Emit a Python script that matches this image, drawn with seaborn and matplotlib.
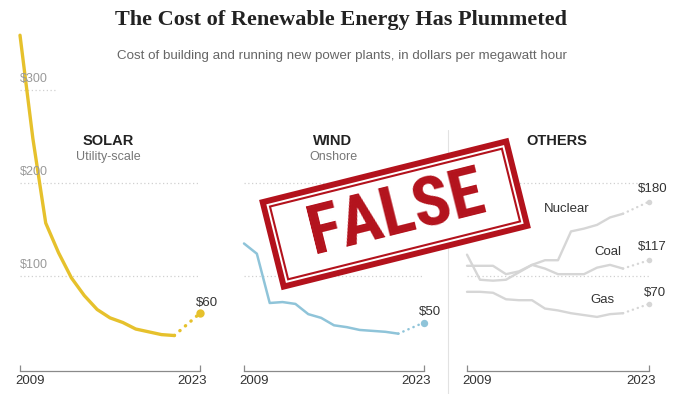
import numpy as np
import pandas as pd
import seaborn as sns
import matplotlib.pyplot as plt
import matplotlib.transforms as mtransforms
from matplotlib import font_manager
from matplotlib.patches import Rectangle
from matplotlib.lines import Line2D

# Kosten je MWh, 2009 - 2021 durchgezogen, 2023 als gepunktetes Ende
years = [2009, 2010, 2011, 2012, 2013, 2014, 2015, 2016, 2017, 2018, 2019, 2020, 2021]
solar = [359, 248, 157, 125, 98, 79, 64, 55, 50, 43, 40, 37, 36]
wind = [135, 124, 71, 72, 70, 59, 55, 47, 45, 42, 41, 40, 38]
nuclear = [123, 96, 95, 96, 104, 112, 117, 117, 148, 151, 155, 163, 167]
coal = [111, 111, 111, 102, 105, 112, 108, 102, 102, 102, 109, 112, 108]
gas = [83, 83, 82, 75, 74, 74, 65, 63, 60, 58, 56, 59, 60]

last_year = 2023
solar_last = 60
wind_last = 50
nuclear_last = 180
coal_last = 117
gas_last = 70

W, H = 700, 394
YELLOW = '#e6c12c'
BLUE = '#8fc4d9'
GREY = '#d6d6d6'
RED = '#b3121c'

sns.set_theme(style='white')
plt.rcParams['font.family'] = ['Liberation Sans', 'DejaVu Sans']

fig = plt.figure(figsize=(7, 3.94), dpi=100)
fig.patch.set_facecolor('white')


def box(x0, x1, ytop, ybot):
    return [x0 / W, 1 - ybot / H, (x1 - x0) / W, (ybot - ytop) / H]


def fpos(x, y):
    return x / W, 1 - y / H


def panel(x0, x1):
    ax = fig.add_axes(box(x0, x1, 25, 369))
    ax.set_xlim(2009, 2023)
    ax.set_ylim(0, 370)
    ax.patch.set_alpha(0)
    for s in ['top', 'right', 'left']:
        ax.spines[s].set_visible(False)
    ax.spines['bottom'].set_position(('outward', 1.5))
    ax.spines['bottom'].set_bounds(2009, 2023)
    ax.spines['bottom'].set_color('#8a8a8a')
    ax.spines['bottom'].set_linewidth(0.9)
    ax.set_xticks([2009, 2023])
    ax.set_yticks([])
    ax.tick_params(axis='x', direction='in', length=4.5, width=0.9, color='#8a8a8a',
                   pad=3, labelsize=9.5, labelcolor='#333333', bottom=True)
    lbls = ax.get_xticklabels()
    lbls[0].set_ha('left')
    lbls[0].set_transform(lbls[0].get_transform() + mtransforms.ScaledTranslation(-0.05, 0, fig.dpi_scale_trans))
    lbls[-1].set_ha('right')
    lbls[-1].set_transform(lbls[-1].get_transform() + mtransforms.ScaledTranslation(0.07, 0, fig.dpi_scale_trans))
    ax.set_xlabel('')
    ax.set_ylabel('')
    return ax


def grid(ax, levels, end=2023):
    ax.hlines(levels, 2009, end, colors='#d0d0d0', linestyles=(0, (1, 2)), linewidth=0.9, zorder=0)


def series(ax, vals, last, color, lw, dot):
    sns.lineplot(x=years, y=vals, ax=ax, color=color, linewidth=lw, clip_on=False,
                 solid_joinstyle='round', solid_capstyle='round')
    sns.lineplot(x=[years[-1], last_year], y=[vals[-1], last], ax=ax, color=color,
                 linewidth=lw, linestyle=(0, (0.1, 2.1)), dash_capstyle='round', clip_on=False)
    ax.scatter([last_year], [last], s=dot, color=color, zorder=5, clip_on=False, linewidths=0)


def value_label(ax, txt, y, dx, dy):
    ax.annotate(txt, xy=(last_year, y), xytext=(dx, dy), textcoords='offset points',
                ha='center', va='center', fontsize=9.5, color='#333333', annotation_clip=False)


# Solar
ax1 = panel(20, 200)
grid(ax1, [100, 200])
grid(ax1, [300], end=2011.9)
series(ax1, solar, solar_last, YELLOW, 2.4, 36)
for v in [100, 200, 300]:
    ax1.annotate(f'${v}', xy=(2009, v), xytext=(0, 3.5), textcoords='offset points',
                 ha='left', va='bottom', fontsize=9, color='#9a9a9a')
value_label(ax1, '$60', solar_last, 5, 7.5)

# Wind
ax2 = panel(244, 424)
grid(ax2, [100, 200])
series(ax2, wind, wind_last, BLUE, 1.8, 28)
value_label(ax2, '$50', wind_last, 4, 7.5)

# Others
ax3 = panel(467, 649)
grid(ax3, [100, 200])
series(ax3, nuclear, nuclear_last, GREY, 1.7, 16)
series(ax3, coal, coal_last, GREY, 1.7, 16)
series(ax3, gas, gas_last, GREY, 1.7, 16)
value_label(ax3, '$180', nuclear_last, 2.5, 9)
value_label(ax3, '$117', coal_last, 2.5, 9.5)
value_label(ax3, '$70', gas_last, 4.5, 8)
ax3.text(2016.7, 172, 'Nuclear', ha='center', va='center', fontsize=9.5, color='#333333')
ax3.text(2019.8, 126, 'Coal', ha='center', va='center', fontsize=9.5, color='#333333')
ax3.text(2019.4, 74, 'Gas', ha='center', va='center', fontsize=9.5, color='#333333')

# Trennlinie
fig.add_artist(Line2D([448 / W, 448 / W], [1 - 130 / H, 0], color='#e2e2e2', linewidth=0.8))

# Kopfzeilen der Panels
for (x, head, sub) in [(108, 'SOLAR', 'Utility-scale'), (333, 'WIND', 'Onshore'), (557, 'OTHERS', None)]:
    fig.text(*fpos(x, 141), head, ha='center', va='center', fontsize=10.5, weight='bold', color='#222222')
    if sub:
        fig.text(*fpos(x, 157.5), sub, ha='center', va='center', fontsize=9, color='#777777')

fig.text(*fpos(341, 20), 'The Cost of Renewable Energy Has Plummeted', ha='center', va='center',
         fontsize=16, weight='bold', color='#222222', family=['Liberation Serif', 'DejaVu Serif'])
fig.text(*fpos(342, 56), 'Cost of building and running new power plants, in dollars per megawatt hour',
         ha='center', va='center', fontsize=9.6, color='#666666')

# Stempel
names = {f.name for f in font_manager.fontManager.ttflist}
stamp_font = next((n for n in ['Liberation Sans Narrow', 'Roboto Condensed', 'DejaVu Sans'] if n in names), 'DejaVu Sans')

axs = fig.add_axes([0, 0, 1, 1], zorder=10)
axs.set_xlim(0, W)
axs.set_ylim(H, 0)
axs.axis('off')
cx, cy, sw, sh = 395, 214, 257, 93
axs.add_patch(Rectangle((cx - (sw - 6) / 2, cy - (sh - 6) / 2), sw - 6, sh - 6, angle=-14,
                        rotation_point='center', facecolor='white', edgecolor=RED, linewidth=4.3))
axs.add_patch(Rectangle((cx - (sw - 18) / 2, cy - (sh - 18) / 2), sw - 18, sh - 18, angle=-14,
                        rotation_point='center', facecolor='none', edgecolor=RED, linewidth=1.5))
axs.text(cx + 2, cy + 1, 'FALSE', rotation=14, rotation_mode='anchor', ha='center', va='center',
         fontsize=50, weight='bold', stretch='condensed', color=RED, family=stamp_font)

fig.savefig('out.png', dpi=100, facecolor='white')
